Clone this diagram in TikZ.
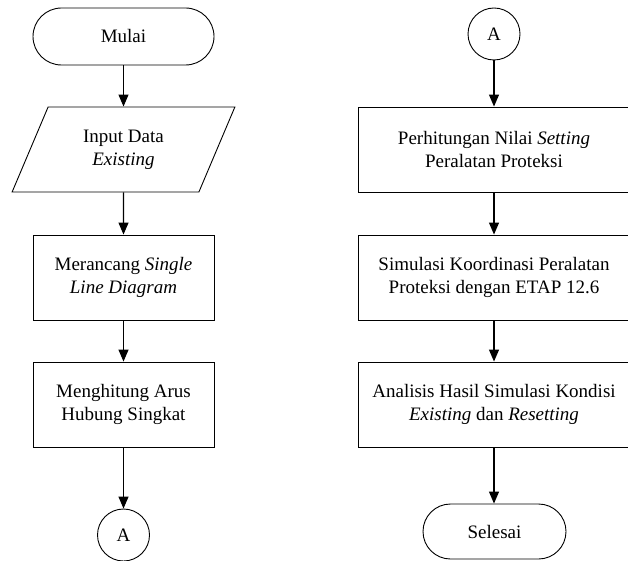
\documentclass[tikz,border=0pt]{standalone}
\usepackage{fontspec}
\setmainfont{Liberation Serif}
\usetikzlibrary{shapes.geometric,arrows.meta}
\begin{document}
\begin{tikzpicture}[x=1pt,y=-1pt,
    every node/.style={font=\fontsize{19}{23}\selectfont, align=center, line width=0.9pt},
    flowbox/.style={draw, rectangle, minimum height=85pt, inner sep=0pt},
    terminal/.style={draw, rectangle, inner sep=0pt, rounded corners=#1},
    joint/.style={draw, circle, minimum size=52pt, inner sep=0pt},
    iobox/.style={draw, trapezium, trapezium left angle=64, trapezium right angle=116,
        trapezium stretches=true, minimum width=223pt, minimum height=85pt, inner sep=0pt},
    flowarrow/.style={-{Triangle[length=12pt,width=10pt]}, line width=1.2pt}]
\useasboundingbox (0,0) rectangle (628,561);
% left column
\node[terminal=28.5pt, minimum width=181pt, minimum height=57pt] (mulai) at (123.5,36.5) {Mulai};
\node[iobox] (input) at (123.5,149.5) {Input Data\\\textit{Existing}};
\node[flowbox, minimum width=181pt] (rancang) at (123.5,277.5) {Merancang \textit{Single}\\\textit{Line Diagram}};
\node[flowbox, minimum width=181pt] (hitung) at (123.5,404.5) {Menghitung Arus\\Hubung Singkat};
\node[joint] (conA) at (123.5,535) {A};
% right column
\node[joint] (conB) at (494,34) {A};
\node[flowbox, minimum width=272pt] (nilai) at (494,149.5) {Perhitungan Nilai \textit{Setting}\\Peralatan Proteksi};
\node[flowbox, minimum width=272pt] (simulasi) at (494,277.5) {Simulasi Koordinasi Peralatan\\Proteksi dengan ETAP 12.6};
\node[flowbox, minimum width=272pt] (analisis) at (494,404.5) {Analisis Hasil Simulasi Kondisi\\\textit{Existing} dan \textit{Resetting}};
\node[terminal=27.5pt, minimum width=143pt, minimum height=55pt] (selesai) at (494.5,531.5) {Selesai};
% connectors
\draw[flowarrow] (mulai) -- (input);
\draw[flowarrow] (input) -- (rancang);
\draw[flowarrow] (rancang) -- (hitung);
\draw[flowarrow] (hitung) -- (conA);
\draw[flowarrow] (conB) -- (nilai);
\draw[flowarrow] (nilai) -- (simulasi);
\draw[flowarrow] (simulasi) -- (analisis);
\draw[flowarrow] (analisis.south) -- (analisis.south |- selesai.north);
\end{tikzpicture}
\end{document}
